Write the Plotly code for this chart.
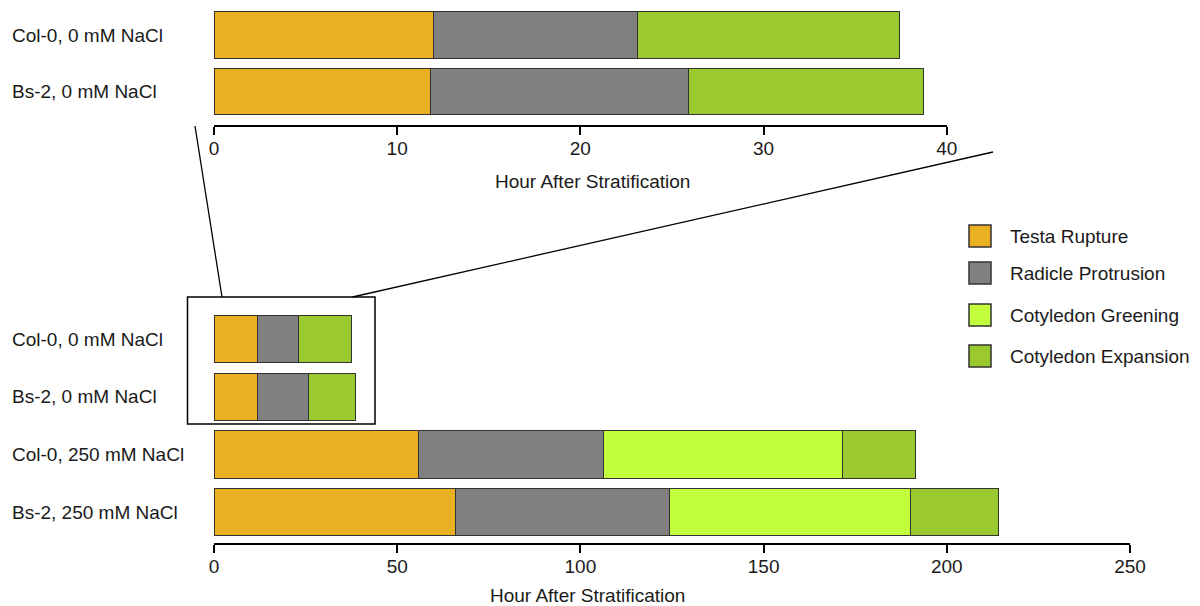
import plotly.graph_objects as go

W, H = 1200, 606

# ---------------- data ----------------
categories = ["Col-0, 0 mM NaCl", "Bs-2, 0 mM NaCl", "Col-0, 250 mM NaCl", "Bs-2, 250 mM NaCl"]
stages = ["Testa Rupture", "Radicle Protrusion", "Cotyledon Greening", "Cotyledon Expansion"]
colors = ["#EAB023", "#808080", "#C2FE3C", "#9ACA2F"]

# durations (hours) of each stage, per category
testa_rupture = [12.0, 11.8, 55.9, 66.0]
radicle_protrusion = [11.1, 14.1, 50.4, 58.2]
cotyledon_greening = [None, None, 65.3, 65.8]
cotyledon_expansion = [14.35, 12.85, 19.9, 24.2]
series = [testa_rupture, radicle_protrusion, cotyledon_greening, cotyledon_expansion]

top_categories = categories[:2]
top_ticks = [0, 10, 20, 30, 40]
bottom_ticks = [0, 50, 100, 150, 200, 250]
x_title = "Hour After Stratification"


def px(x):
    return x / W


def py(y):
    return 1 - y / H


FONT = "Liberation Sans, Arial, Helvetica, sans-serif"
TXT = "#1a1a1a"

fig = go.Figure()

# top chart (0 mM only, zoomed)
for name, vals, col in zip(stages, series, colors):
    fig.add_trace(go.Bar(
        y=top_categories, x=vals[:2], orientation="h", name=name,
        marker=dict(color=col, line=dict(color="#333333", width=1)),
        xaxis="x", yaxis="y", showlegend=False, hoverinfo="x+y"))

# bottom chart (all treatments)
for name, vals, col in zip(stages, series, colors):
    fig.add_trace(go.Bar(
        y=categories, x=vals, orientation="h", name=name,
        marker=dict(color=col, line=dict(color="#333333", width=1)),
        xaxis="x2", yaxis="y2", showlegend=False, hoverinfo="x+y"))

axis_common = dict(showgrid=False, zeroline=False, showline=True, linecolor="black",
                   linewidth=2, ticks="outside", ticklen=8, tickwidth=2, tickcolor="black",
                   automargin=False, ticklabelstandoff=-3,
                   tickfont=dict(family=FONT, size=19, color=TXT))

fig.update_layout(
    template="none",
    width=W, height=H, autosize=False, margin=dict(l=0, r=0, t=0, b=0, pad=0),
    paper_bgcolor="white", plot_bgcolor="white",
    barmode="stack", bargap=0.18, showlegend=False,
    font=dict(family=FONT, size=19, color=TXT),
    xaxis=dict(domain=[px(214), px(946.7)], range=[0, 40], tickvals=top_ticks,
               anchor="y", **axis_common),
    yaxis=dict(domain=[py(125), py(5)], type="category", categoryarray=top_categories,
               range=[1.593, -0.531], showticklabels=False, showgrid=False, automargin=False,
               zeroline=False, showline=False, ticks="", anchor="x"),
    xaxis2=dict(domain=[px(214), px(1130)], range=[0, 250], tickvals=bottom_ticks,
                anchor="y2", **axis_common),
    yaxis2=dict(domain=[py(542.7), py(300)], type="category", categoryarray=categories,
                range=[3.532, -0.677], showticklabels=False, showgrid=False, automargin=False,
                zeroline=False, showline=False, ticks="", anchor="x2"),
)

annotations = []
for c in top_categories:
    annotations.append(dict(x=px(10), xref="paper", y=c, yref="y", text=c,
                            xanchor="left", yanchor="middle", showarrow=False,
                            font=dict(family=FONT, size=19, color=TXT)))
for c in categories:
    annotations.append(dict(x=px(10), xref="paper", y=c, yref="y2", text=c,
                            xanchor="left", yanchor="middle", showarrow=False,
                            font=dict(family=FONT, size=19, color=TXT)))
annotations.append(dict(x=px(592), y=py(182), xref="paper", yref="paper", text=x_title,
                        showarrow=False, xanchor="center", yanchor="middle",
                        font=dict(family=FONT, size=19, color=TXT)))
annotations.append(dict(x=px(587), y=py(595), xref="paper", yref="paper", text=x_title,
                        showarrow=False, xanchor="center", yanchor="middle",
                        font=dict(family=FONT, size=19, color=TXT)))

shapes = []
# inset box and zoom lines
shapes.append(dict(type="rect", xref="paper", yref="paper", x0=px(187.5), x1=px(375),
                   y0=py(424), y1=py(297), line=dict(color="black", width=1.5)))
shapes.append(dict(type="line", xref="paper", yref="paper", x0=px(195), y0=py(126),
                   x1=px(222), y1=py(297), line=dict(color="black", width=1.3)))
shapes.append(dict(type="line", xref="paper", yref="paper", x0=px(352.5), y0=py(297),
                   x1=px(993), y1=py(152), line=dict(color="black", width=1.3)))

# legend
leg_y = [236, 273, 315, 356]
for name, col, yc in zip(stages, colors, leg_y):
    shapes.append(dict(type="rect", xref="paper", yref="paper", x0=px(969), x1=px(991),
                       y0=py(yc + 11), y1=py(yc - 11), fillcolor=col,
                       line=dict(color="#333333", width=1.5)))
    annotations.append(dict(x=px(1008), y=py(yc), xref="paper", yref="paper", text=name,
                            showarrow=False, xanchor="left", yanchor="middle",
                            font=dict(family=FONT, size=19, color=TXT)))

fig.update_layout(annotations=annotations, shapes=shapes)

fig.write_html("out.html",
               config={"displayModeBar": False, "responsive": False},
               post_script="document.body.style.margin='0px';document.body.style.overflow='hidden';")
